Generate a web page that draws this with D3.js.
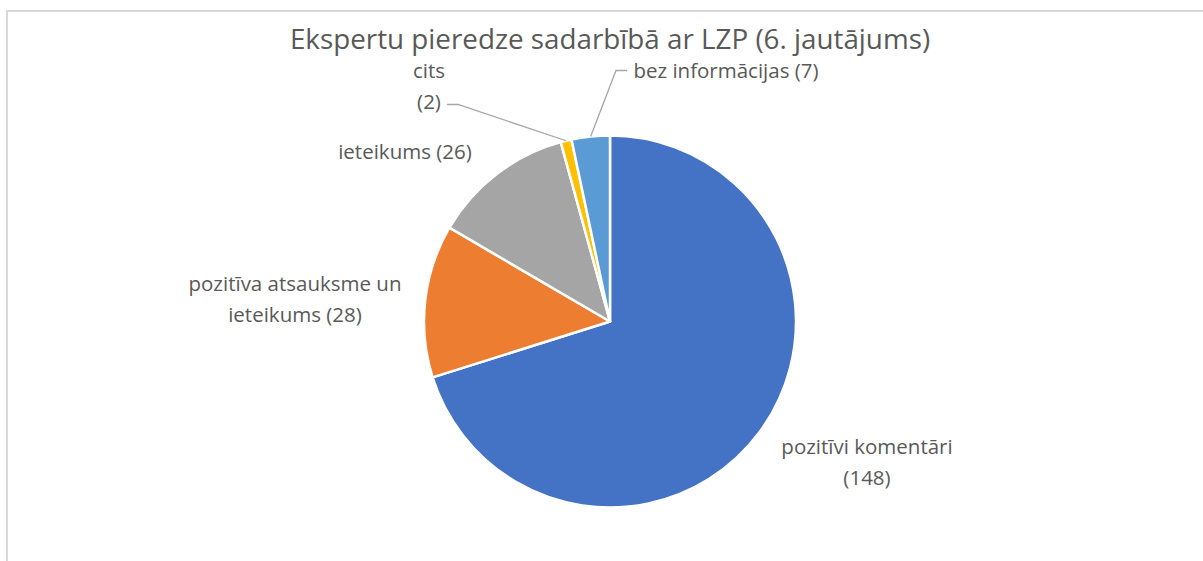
<!DOCTYPE html>
<html lang="lv">
<head>
<meta charset="UTF-8">
<title>Ekspertu pieredze</title>
<script src="https://d3js.org/d3.v7.min.js"></script>
<style>
    body { margin: 0; background: #fff; }
    text { font-family: "Open Sans", "Noto Sans", sans-serif; fill: #595959; }
</style>
</head>
<body>
<div id="chart"></div>
<script>
// data
var categories = ["pozitīvi komentāri", "pozitīva atsauksme un ieteikums", "ieteikums", "cits", "bez informācijas"];
var values = [148, 28, 26, 2, 7];
var colors = ["#4472C4", "#ED7D31", "#A5A5A5", "#FFC000", "#5B9BD5"];
var titleText = "Ekspertu pieredze sadarbībā ar LZP (6. jautājums)";

var width = 1203, height = 561;
var cx = 610, cy = 321.5, radius = 186;

var svg = d3.select("#chart").append("svg")
    .attr("width", width)
    .attr("height", height);

// chart frame (runs off the right and bottom edge)
svg.append("rect")
    .attr("x", 7).attr("y", 11)
    .attr("width", 1220).attr("height", 600)
    .attr("fill", "none")
    .attr("stroke", "#d9d9d9")
    .attr("stroke-width", 2);

svg.append("text")
    .attr("x", 610).attr("y", 49)
    .attr("text-anchor", "middle")
    .style("font-size", "27.8px")
    .text(titleText);

var g = svg.append("g")
    .attr("transform", "translate(" + cx + "," + cy + ")");

var pie = d3.pie().sort(null).value(function(d) { return d; });
var arcs = pie(values);

var arc = d3.arc().innerRadius(0).outerRadius(radius);

g.selectAll("path.slice")
    .data(arcs)
    .enter().append("path")
    .attr("class", "slice")
    .attr("d", arc)
    .attr("fill", function(d, i) { return colors[i]; })
    .attr("stroke", "#fff")
    .attr("stroke-width", 2.5)
    .attr("stroke-linejoin", "round");

// label layout: offsets from pie centre, one entry per slice
var labelPos = [
    { x: 257, y: 132, lines: ["pozitīvi komentāri", "(148)"] },
    { x: -315, y: -31, lines: ["pozitīva atsauksme un", "ieteikums (28)"] },
    { x: -205, y: -163, lines: ["ieteikums (26)"] },
    { x: -181, y: -244, lines: ["cits", "(2)"], stub: [-152, -217], dir: -1 },
    { x: 116, y: -244, lines: ["bez informācijas (7)"], stub: [6, -251], dir: 1 }
];

var labels = g.selectAll("g.lbl")
    .data(arcs)
    .enter().append("g")
    .attr("class", "lbl");

labels.append("text")
    .attr("text-anchor", "middle")
    .style("font-size", "20.5px")
    .each(function(d) {
        var t = d3.select(this);
        var p = labelPos[d.index];
        p.lines.forEach(function(line, j) {
            t.append("tspan")
                .attr("x", p.x)
                .attr("y", p.y + j * 31.5)
                .text(line);
        });
    });

// leader lines for the two small slices
labels.filter(function(d) { return labelPos[d.index].stub; })
    .append("polyline")
    .attr("fill", "none")
    .attr("stroke", "#a6a6a6")
    .attr("stroke-width", 1.3)
    .attr("points", function(d) {
        var mid = (d.startAngle + d.endAngle) / 2;
        var px = Math.sin(mid) * radius, py = -Math.cos(mid) * radius;
        var p = labelPos[d.index];
        var s = p.stub;
        return (s[0] + p.dir * 11) + "," + s[1] + " " + s[0] + "," + s[1] + " " + px + "," + py;
    });
</script>
</body>
</html>
